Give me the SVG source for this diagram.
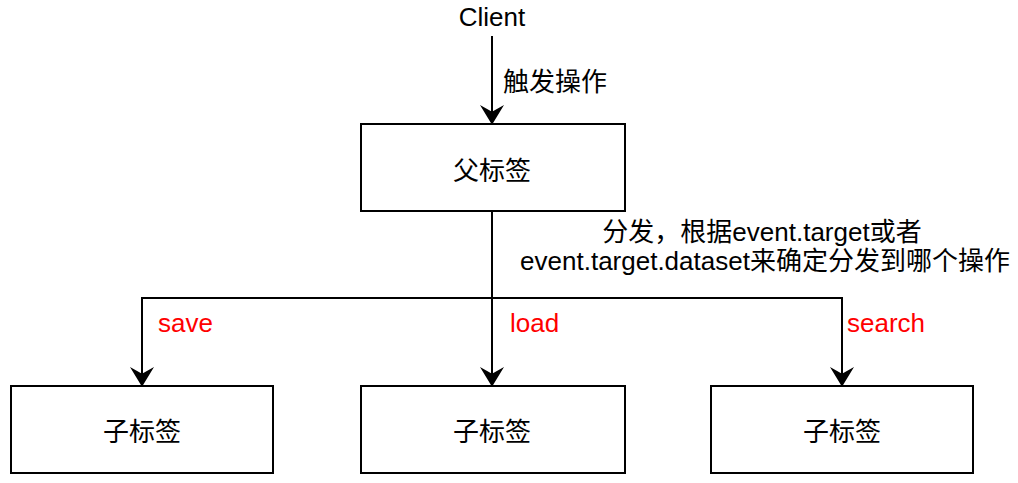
<svg xmlns="http://www.w3.org/2000/svg" width="1018" height="483" viewBox="0 0 1018 483">
<defs>
<style>
text{font-family:"Liberation Sans","Noto Sans CJK SC",sans-serif;font-size:26px;fill:#000}
.box{fill:#fff;stroke:#000;stroke-width:2}
.edge{fill:none;stroke:#000;stroke-width:2}
.red{fill:#ff0000}
.mid{text-anchor:middle}
</style>
<marker id="arr" markerUnits="userSpaceOnUse" markerWidth="22" markerHeight="24" viewBox="0 0 20 22" refX="10" refY="11" orient="auto">
<path d="M0,0 L18,11 L0,22 L6,11 Z" fill="#000"/>
</marker>
</defs>
<rect width="1018" height="483" fill="#fff"/>
<g id="connectors">
<line class="edge" x1="492" y1="36" x2="492" y2="116" marker-end="url(#arr)"/>
<polyline class="edge" points="492,212 492,298 142,298 142,378" marker-end="url(#arr)"/>
<line class="edge" x1="492" y1="298" x2="492" y2="378" marker-end="url(#arr)"/>
<polyline class="edge" points="492,298 842,298 842,378" marker-end="url(#arr)"/>
</g>
<g id="client"><text class="mid" x="492" y="26">Client</text></g>
<g id="label-trigger"><text x="503" y="91">触发操作</text></g>
<g id="parent"><rect class="box" x="361" y="124" width="264" height="87"/><text class="mid" x="492" y="180">父标签</text></g>
<g id="label-dispatch">
<text class="mid" x="762" y="241">分发，根据event.target或者</text>
<text class="mid" x="765" y="270">event.target.dataset来确定分发到哪个操作</text>
</g>
<g id="label-save"><text class="red" x="158" y="332">save</text></g>
<g id="label-load"><text class="red" x="510" y="332">load</text></g>
<g id="label-search"><text class="red" x="847" y="332">search</text></g>
<g id="child-save"><rect class="box" x="11" y="386" width="262" height="87"/><text class="mid" x="142" y="441">子标签</text></g>
<g id="child-load"><rect class="box" x="361" y="386" width="264" height="87"/><text class="mid" x="492" y="441">子标签</text></g>
<g id="child-search"><rect class="box" x="711" y="386" width="262" height="87"/><text class="mid" x="842" y="441">子标签</text></g>
</svg>
